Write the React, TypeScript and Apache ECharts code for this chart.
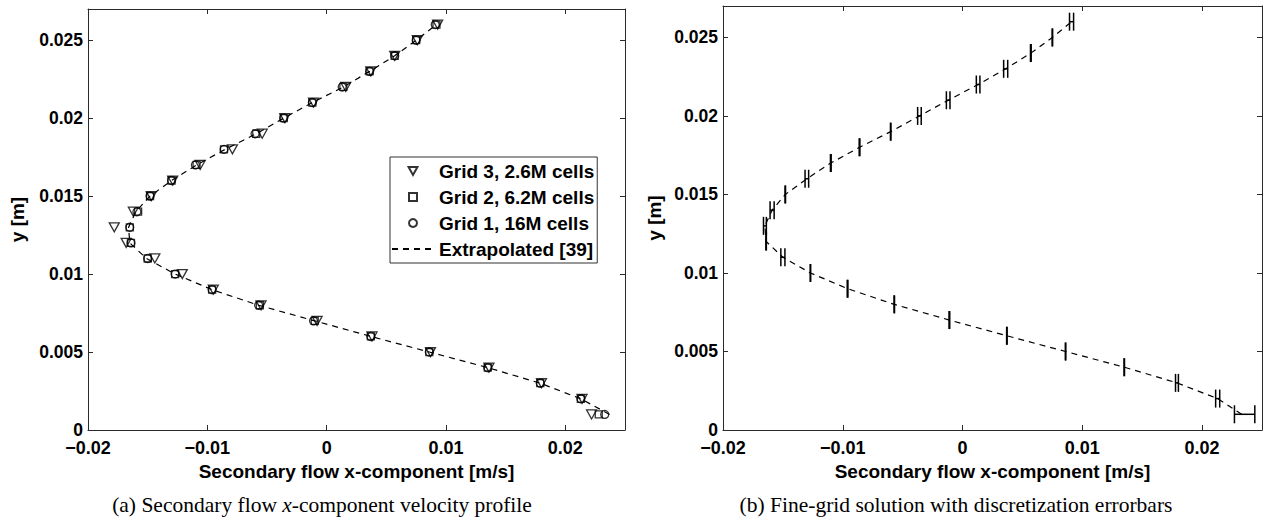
import React, { useEffect, useRef } from 'react';
import * as echarts from 'echarts';

const yVals = [0.001, 0.002, 0.003, 0.004, 0.005, 0.006, 0.007, 0.008, 0.009, 0.010, 0.011, 0.012, 0.013,
  0.014, 0.015, 0.016, 0.017, 0.018, 0.019, 0.020, 0.021, 0.022, 0.023, 0.024, 0.025, 0.026];

const extrapX = [0.0237, 0.0213, 0.0179, 0.0135, 0.0086, 0.0037, -0.0010, -0.0057, -0.0096, -0.0127, -0.0151, -0.0165, -0.0166,
  -0.0160, -0.0148, -0.0130, -0.0109, -0.0085, -0.0059, -0.0036, -0.0012, 0.0014, 0.0036, 0.0057, 0.0075, 0.0092];
const grid1X = [0.0233, 0.0213, 0.0179, 0.0135, 0.0086, 0.0037, -0.0011, -0.0057, -0.0096, -0.0127, -0.0150, -0.0164, -0.0165,
  -0.0159, -0.0148, -0.0130, -0.0110, -0.0086, -0.0060, -0.0036, -0.0012, 0.0013, 0.0036, 0.0057, 0.0075, 0.0091];
const grid2X = [0.0228, 0.0213, 0.0179, 0.0135, 0.0086, 0.0037, -0.0010, -0.0056, -0.0096, -0.0127, -0.0150, -0.0164, -0.0165,
  -0.0158, -0.0148, -0.0130, -0.0109, -0.0086, -0.0059, -0.0036, -0.0012, 0.0014, 0.0036, 0.0057, 0.0075, 0.0092];
const grid3X = [0.0222, 0.0214, 0.0180, 0.0136, 0.0087, 0.0038, -0.0008, -0.0055, -0.0095, -0.0121, -0.0144, -0.0168, -0.0178,
  -0.0162, -0.0147, -0.0129, -0.0106, -0.0079, -0.0054, -0.0035, -0.0011, 0.0016, 0.0037, 0.0057, 0.0076, 0.0093];

// discretization error bars of the fine-grid solution (left / right extent)
const errMinus = [0.0006, 0.00017, 0.00012, 0.00002, 0.00002, 0.00002, 0.00003, 0.00002, 0.00003, 0.00002, 0.00017, 0.00002, 0.00012,
  0.00017, 0.00002, 0.00015, 0.00003, 0.00003, 0.00002, 0.00015, 0.00015, 0.00015, 0.00017, 0.00003, 0.00002, 0.00017];
const errPlus = [0.0011, 0.00017, 0.00012, 0.00002, 0.00002, 0.00002, 0.00003, 0.00002, 0.00003, 0.00002, 0.00017, 0.00002, 0.00012,
  0.00017, 0.00002, 0.00015, 0.00003, 0.00003, 0.00002, 0.00015, 0.00015, 0.00015, 0.00017, 0.00003, 0.00002, 0.00017];

const xMin = -0.02, xMax = 0.025, xStep = 0.01;
const yMin = 0, yMax = 0.027, yStep = 0.005;

const legendNames = ['Grid 3, 2.6M cells', 'Grid 2, 6.2M cells', 'Grid 1, 16M cells', 'Extrapolated [39]'];
const xTitle = 'Secondary flow x-component [m/s]';
const yTitle = 'y [m]';

const FONT = '"Liberation Sans", Arial, Helvetica, sans-serif';
const SERIF = '"Liberation Serif", "Times New Roman", serif';
const AXIS_COLOR = '#2a2a2a';

const fmt = (v: number) => {
  const s = String(Number(v.toFixed(5)));
  return s.replace('-', '\u2212');
};

function App() {
  const ref = useRef<HTMLDivElement>(null);
  useEffect(() => {
    if (!ref.current) return;
    const chart = echarts.init(ref.current, undefined, { renderer: 'svg' });

    const pts = (xs: number[]) => xs.map((x, i) => [x, yVals[i]]);
    const errData = grid1X.map((x, i) => [x, yVals[i], errMinus[i], errPlus[i]]);

    const mainX = (gridIndex: number) => ({
      gridIndex, type: 'value', min: xMin, max: xMax, interval: xStep, position: 'bottom',
      axisLine: { show: true, onZero: false, lineStyle: { color: AXIS_COLOR, width: 1 } },
      axisTick: { show: true, inside: true, length: 5, lineStyle: { color: AXIS_COLOR } },
      axisLabel: { show: true, margin: 11, showMaxLabel: false, color: '#000', fontFamily: FONT, fontWeight: 'bold', fontSize: 18, lineHeight: 14, formatter: fmt },
      splitLine: { show: false },
      name: xTitle, nameLocation: 'middle', nameGap: 28,
      nameTextStyle: { color: '#000', fontFamily: FONT, fontWeight: 'bold', fontSize: 19 },
    });
    const topX = (gridIndex: number) => ({
      gridIndex, type: 'value', min: xMin, max: xMax, interval: xStep, position: 'top',
      axisLine: { show: true, onZero: false, lineStyle: { color: AXIS_COLOR, width: 1 } },
      axisTick: { show: true, inside: true, length: 5, lineStyle: { color: AXIS_COLOR } },
      axisLabel: { show: false }, splitLine: { show: false },
    });
    const mainY = (gridIndex: number, gap: number) => ({
      gridIndex, type: 'value', min: yMin, max: yMax, interval: yStep, position: 'left',
      axisLine: { show: true, onZero: false, lineStyle: { color: AXIS_COLOR, width: 1 } },
      axisTick: { show: true, inside: true, length: 5, lineStyle: { color: AXIS_COLOR } },
      axisLabel: { show: true, margin: 5, showMaxLabel: false, color: '#000', fontFamily: FONT, fontWeight: 'bold', fontSize: 17.5, lineHeight: 13, formatter: fmt },
      splitLine: { show: false },
      name: yTitle, nameLocation: 'middle', nameGap: gap,
      nameTextStyle: { color: '#000', fontFamily: FONT, fontWeight: 'bold', fontSize: 19 },
    });
    const rightY = (gridIndex: number) => ({
      gridIndex, type: 'value', min: yMin, max: yMax, interval: yStep, position: 'right',
      axisLine: { show: true, onZero: false, lineStyle: { color: AXIS_COLOR, width: 1 } },
      axisTick: { show: true, inside: true, length: 5, lineStyle: { color: AXIS_COLOR } },
      axisLabel: { show: false }, splitLine: { show: false },
    });

    const openStyle = { color: 'rgba(255,255,255,0)', borderColor: '#000', borderWidth: 1.3 };
    const hiddenSymbol = { color: 'rgba(0,0,0,0)', borderColor: 'rgba(0,0,0,0)', borderWidth: 0 };

    chart.setOption({
      animation: false,
      backgroundColor: '#fff',
      grid: [
        { left: 88, top: 9, width: 537, height: 421 },
        { left: 723, top: 6, width: 539, height: 424 },
      ],
      xAxis: [mainX(0), topX(0), mainX(1), topX(1)],
      yAxis: [mainY(0, 61), rightY(0), mainY(1, 59), rightY(1)],
      legend: {
        data: [
          { name: legendNames[0], icon: 'path://M0,0L10,0L5,9Z' },
          { name: legendNames[1], icon: 'path://M0,0L9,0L9,9L0,9Z' },
          { name: legendNames[2], icon: 'circle' },
          { name: legendNames[3], itemStyle: hiddenSymbol },
        ],
        symbolKeepAspect: true,
        left: 390, top: 157, orient: 'vertical',
        itemWidth: 42, itemHeight: 8, itemGap: 6,
        padding: [4, 3, 4, 1],
        borderColor: '#333', borderWidth: 1, backgroundColor: '#fff',
        selectedMode: false,
        textStyle: { color: '#000', fontFamily: FONT, fontWeight: 'bold', fontSize: 19, lineHeight: 20 },
      },
      graphic: [
        {
          type: 'text', x: 322, y: 505,
          style: {
            text: '(a) Secondary flow {i|x}-component velocity profile',
            font: '21.5px ' + SERIF, fill: '#000',
            align: 'center', verticalAlign: 'middle',
            rich: { i: { fontStyle: 'italic', fontFamily: SERIF, fontSize: 21.5 } },
          },
        },
        {
          type: 'text', x: 956, y: 505,
          style: {
            text: '(b) Fine-grid solution with discretization errorbars',
            font: '21.5px ' + SERIF, fill: '#000',
            align: 'center', verticalAlign: 'middle',
          },
        },
      ],
      series: [
        {
          name: legendNames[0], type: 'scatter', xAxisIndex: 0, yAxisIndex: 0,
          symbol: 'triangle', symbolRotate: 180, symbolSize: [10, 9],
          itemStyle: openStyle, data: pts(grid3X), z: 3,
        },
        {
          name: legendNames[1], type: 'scatter', xAxisIndex: 0, yAxisIndex: 0,
          symbol: 'rect', symbolSize: 7,
          itemStyle: openStyle, data: pts(grid2X), z: 3,
        },
        {
          name: legendNames[2], type: 'scatter', xAxisIndex: 0, yAxisIndex: 0,
          symbol: 'circle', symbolSize: 8,
          itemStyle: openStyle, data: pts(grid1X), z: 3,
        },
        {
          name: legendNames[3], type: 'line', xAxisIndex: 0, yAxisIndex: 0,
          showSymbol: false, symbol: 'none',
          lineStyle: { color: '#000', width: 1.2, type: [6, 5] },
          itemStyle: { color: '#000' },
          data: pts(extrapX), z: 2,
        },
        {
          name: 'fine', type: 'line', xAxisIndex: 2, yAxisIndex: 2,
          showSymbol: false, symbol: 'none',
          lineStyle: { color: '#000', width: 1.2, type: [6, 5] },
          data: pts(grid1X), z: 2,
        },
        {
          name: 'errorbars', type: 'custom', xAxisIndex: 2, yAxisIndex: 2,
          encode: { x: 0, y: 1 },
          data: errData,
          z: 3,
          renderItem: (params: any, api: any) => {
            const x = api.value(0), y = api.value(1), em = api.value(2), ep = api.value(3);
            const p1 = api.coord([x - em, y]);
            const p2 = api.coord([x + ep, y]);
            const h = 9;
            const st = { stroke: '#000', lineWidth: 1.5 };
            return {
              type: 'group',
              children: [
                { type: 'line', shape: { x1: p1[0], y1: p1[1], x2: p2[0], y2: p2[1] }, style: st },
                { type: 'line', shape: { x1: p1[0], y1: p1[1] - h, x2: p1[0], y2: p1[1] + h }, style: st },
                { type: 'line', shape: { x1: p2[0], y1: p2[1] - h, x2: p2[0], y2: p2[1] + h }, style: st },
              ],
            };
          },
        },
      ],
    });
    return () => chart.dispose();
  }, []);
  return <div ref={ref} style={{ position: 'fixed', left: 0, top: 0, width: 1263, height: 517 }} />;
}

export default App;
